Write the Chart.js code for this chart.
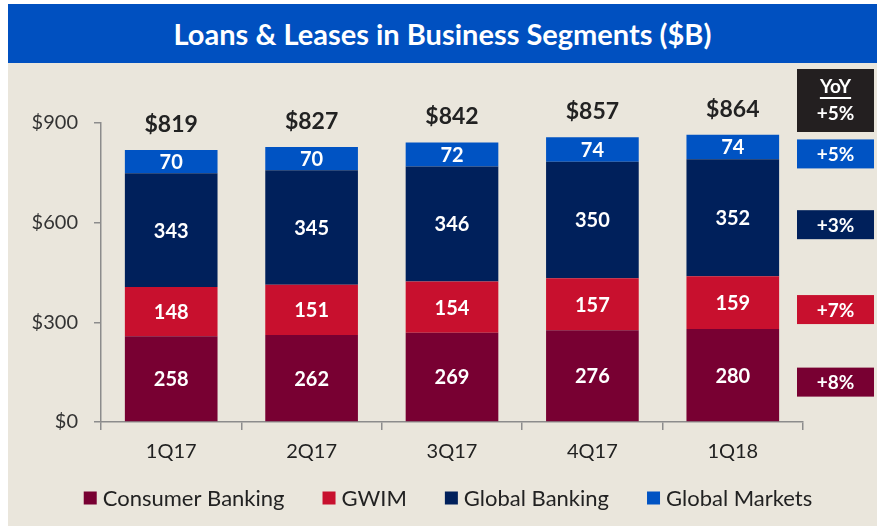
<!DOCTYPE html>
<html><head><meta charset="utf-8">
<script src="https://cdn.jsdelivr.net/npm/chart.js@4/dist/chart.umd.min.js"></script>
<style>
html,body{margin:0;padding:0;background:#ffffff;width:877px;height:526px;overflow:hidden;}
#title{position:absolute;left:8px;top:4px;width:869px;height:59px;background:#0050C0;color:#fff;
font-family:Lato,sans-serif;font-weight:bold;font-size:29px;line-height:59px;text-align:center;}
#wrap{position:absolute;left:8px;top:63px;width:869px;height:463px;background:#EAE6DC;}
</style></head>
<body>
<div id="title">Loans &amp; Leases in Business Segments ($B)</div>
<div id="wrap"><canvas id="c" width="869" height="463"></canvas></div>
<script>
const categories = ['1Q17','2Q17','3Q17','4Q17','1Q18'];
const consumerBanking = [258,262,269,276,280];
const gwim = [148,151,154,157,159];
const globalBanking = [343,345,346,350,352];
const globalMarkets = [70,70,72,74,74];
const totals = [819,827,842,857,864];
const yoyHeader = ['YoY','+5%'];
const yoyChanges = ['+8%','+7%','+3%','+5%']; // Consumer, GWIM, Global Banking, Global Markets
const yTicks = [0,300,600,900];
const names = ['Consumer Banking','GWIM','Global Banking','Global Markets'];

const colors = ['#780032','#C8102E','#00205B','#0053C3'];
const FONT = 'Lato, sans-serif';

const labelPlugin = {
  id:'labels',
  afterDatasetsDraw(chart){
    const ctx = chart.ctx;
    const y = chart.scales.y, x = chart.scales.x;
    ctx.save();
    ctx.fillStyle = '#ffffff';
    ctx.font = 'bold 20px ' + FONT;
    ctx.textAlign = 'center';
    ctx.textBaseline = 'middle';
    chart.data.datasets.forEach((ds,di)=>{
      const meta = chart.getDatasetMeta(di);
      meta.data.forEach((el,i)=>{
        ctx.fillText(String(ds.data[i]), el.x, (el.y+el.base)/2 + 1);
      });
    });
    ctx.fillStyle = '#222222';
    ctx.font = 'bold 23px ' + FONT;
    ctx.textBaseline = 'alphabetic';
    totals.forEach((t,i)=>{
      ctx.fillText('$' + t, x.getPixelForValue(i), y.getPixelForValue(t) - 18);
    });
    const ca = chart.chartArea;
    const bx = ca.right - 6, bw = 77, bh = 29;
    ctx.fillStyle = '#231F20';
    ctx.fillRect(bx, 6, bw, 63);
    ctx.fillStyle = '#ffffff';
    ctx.font = 'bold 19px ' + FONT;
    ctx.textBaseline = 'middle';
    ctx.fillText(yoyHeader[0], bx + bw/2, 24);
    const w = ctx.measureText(yoyHeader[0]).width;
    ctx.fillRect(bx + bw/2 - w/2, 34, w, 2);
    ctx.fillText(yoyHeader[1], bx + bw/2, 51);
    const last = categories.length - 1;
    chart.data.datasets.forEach((ds,di)=>{
      const el = chart.getDatasetMeta(di).data[last];
      const cy = (el.y + el.base)/2 + 7;
      ctx.fillStyle = colors[di];
      ctx.fillRect(bx, cy - bh/2, bw, bh);
      ctx.fillStyle = '#ffffff';
      ctx.fillText(yoyChanges[di], bx + bw/2, cy + 1);
    });
    ctx.restore();
  },
  afterDraw(chart){
    // legend
    const ctx = chart.ctx;
    ctx.save();
    ctx.font = '22px ' + FONT;
    ctx.textBaseline = 'middle';
    ctx.textAlign = 'left';
    const box = 13, gapText = 6, gapItem = 38;
    const ds = chart.data.datasets;
    const widths = ds.map(d => box + gapText + ctx.measureText(d.label).width);
    const total = widths.reduce((a,b)=>a+b,0) + gapItem*(ds.length-1);
    let lx = 440 - total/2;
    const ly = 435;
    ds.forEach((d,i)=>{
      ctx.fillStyle = d.backgroundColor;
      ctx.fillRect(lx, ly - box/2, box, box);
      ctx.fillStyle = '#222222';
      ctx.fillText(d.label, lx + box + gapText, ly + 1);
      lx += widths[i] + gapItem;
    });
    ctx.restore();
  }
};

const series = [consumerBanking, gwim, globalBanking, globalMarkets];

new Chart(document.getElementById('c'), {
  type:'bar',
  data:{
    labels: categories,
    datasets: series.map((d,i)=>({
      label: names[i], data: d, backgroundColor: colors[i],
      borderWidth: 0, categoryPercentage: 1.0, barPercentage: 0.66
    }))
  },
  options:{
    responsive:false, animation:false,
    layout:{padding:{top:60,right:74,left:0,bottom:54}},
    plugins:{
      tooltip:{enabled:false},
      legend:{display:false}
    },
    scales:{
      x:{
        stacked:true,
        grid:{display:true, drawOnChartArea:false, drawTicks:true, tickLength:8, color:'#8c8c8c', lineWidth:1.5, offset:true},
        border:{display:true, color:'#8c8c8c', width:1.5},
        ticks:{color:'#222222', font:{family:FONT, size:20}, padding:10},
        afterFit(s){ s.height = 50; }
      },
      y:{
        stacked:true, min:0, max:900,
        afterBuildTicks(s){ s.ticks = yTicks.map(v=>({value:v})); },
        grid:{display:true, drawOnChartArea:false, drawTicks:true, tickLength:7, color:'#8c8c8c', lineWidth:1.5},
        border:{display:true, color:'#8c8c8c', width:1.5},
        ticks:{color:'#333333', font:{family:FONT, size:20}, padding:16,
          callback:(v)=>'$' + v},
        afterFit(s){ s.width = 93; }
      }
    }
  },
  plugins:[labelPlugin]
});
</script>
</body></html>
